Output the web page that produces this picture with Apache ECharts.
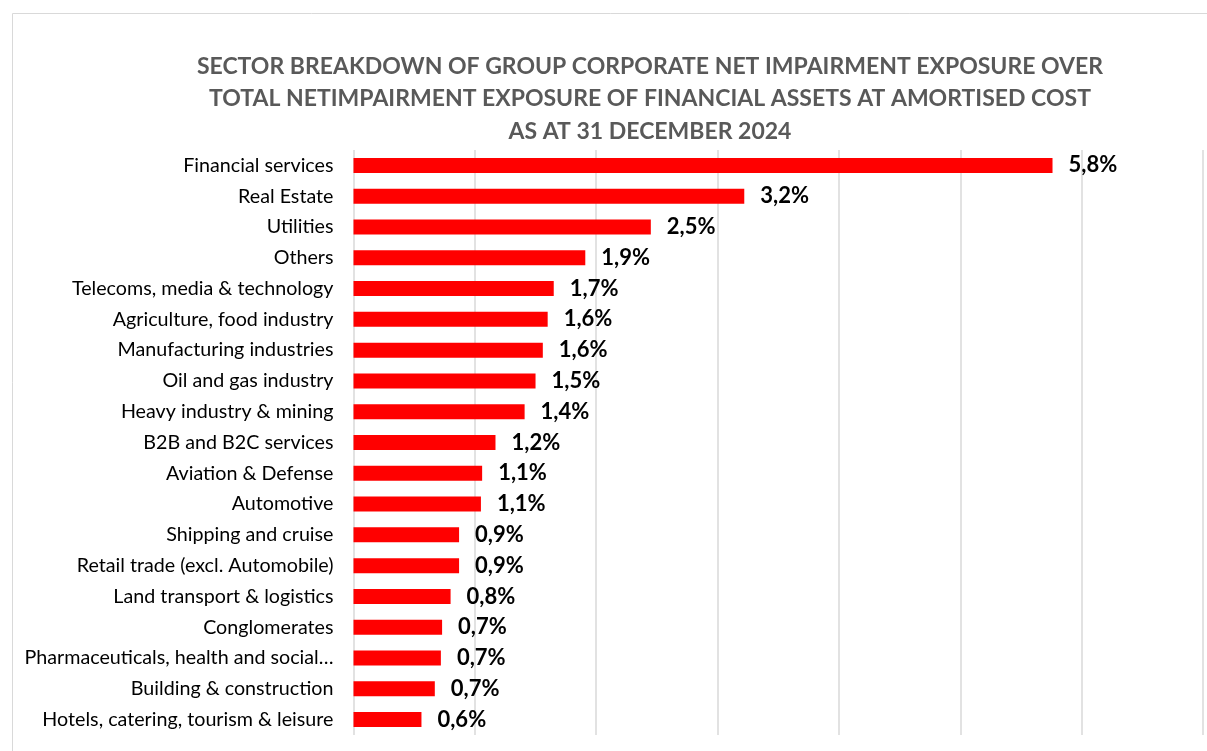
<!DOCTYPE html>
<html>
<head>
<meta charset="utf-8">
<script src="https://cdn.jsdelivr.net/npm/echarts@6/dist/echarts.min.js"></script>
<style>html,body{margin:0;padding:0;background:#fff}#c{width:1207px;height:751px}</style>
</head>
<body>
<div id="c"></div>
<script>
const categories = [
  "Financial services","Real Estate","Utilities","Others","Telecoms, media & technology",
  "Agriculture, food industry","Manufacturing industries","Oil and gas industry",
  "Heavy industry & mining","B2B and B2C services","Aviation & Defense","Automotive",
  "Shipping and cruise","Retail trade (excl. Automobile)","Land transport & logistics",
  "Conglomerates","Pharmaceuticals, health and social\u2026","Building & construction",
  "Hotels, catering, tourism & leisure"
];
const values = [5.76,3.22,2.45,1.91,1.65,1.60,1.56,1.50,1.41,1.17,1.06,1.05,0.87,0.87,0.80,0.73,0.72,0.67,0.56];
const valueLabels = ["5,8%","3,2%","2,5%","1,9%","1,7%","1,6%","1,6%","1,5%","1,4%","1,2%","1,1%","1,1%","0,9%","0,9%","0,8%","0,7%","0,7%","0,7%","0,6%"];
const titleLines = [
  "SECTOR BREAKDOWN OF GROUP CORPORATE NET IMPAIRMENT EXPOSURE OVER",
  "TOTAL NETIMPAIRMENT EXPOSURE OF FINANCIAL ASSETS AT AMORTISED COST",
  "AS AT 31 DECEMBER 2024"
];

const chart = echarts.init(document.getElementById('c'));
chart.setOption({
  animation: false,
  title: {
    text: titleLines.join('\n'),
    left: 645, top: 45, textAlign: 'center',
    textStyle: {fontFamily: 'Lato', fontWeight: 'bold', fontSize: 23, color: '#595959', lineHeight: 32.5}
  },
  graphic: [{
    type: 'rect', shape: {x: 12.5, y: 13.5, width: 1210, height: 760},
    style: {fill: 'none', stroke: '#d9d9d9', lineWidth: 1}, silent: true
  }],
  grid: {left: 353.5, right: 4, top: 150, bottom: 16, containLabel: false},
  xAxis: {
    type: 'value', min: 0, max: 7, interval: 1,
    axisLabel: {show: false}, axisLine: {show: false}, axisTick: {show: false},
    splitLine: {show: true, lineStyle: {color: '#d9d9d9', width: 1.5}}
  },
  yAxis: {
    type: 'category', inverse: true, data: categories,
    axisLine: {show: false}, axisTick: {show: false},
    axisLabel: {fontFamily: 'Lato', fontSize: 19.7, color: '#000', margin: 20}
  },
  series: [{
    type: 'bar', data: values, barWidth: 15,
    itemStyle: {color: '#ff0000'},
    label: {
      show: true, position: 'right', distance: 16,
      fontFamily: 'Lato', fontWeight: 'bold', fontSize: 22, color: '#000',
      formatter: p => valueLabels[p.dataIndex]
    }
  }]
});
</script>
</body>
</html>
